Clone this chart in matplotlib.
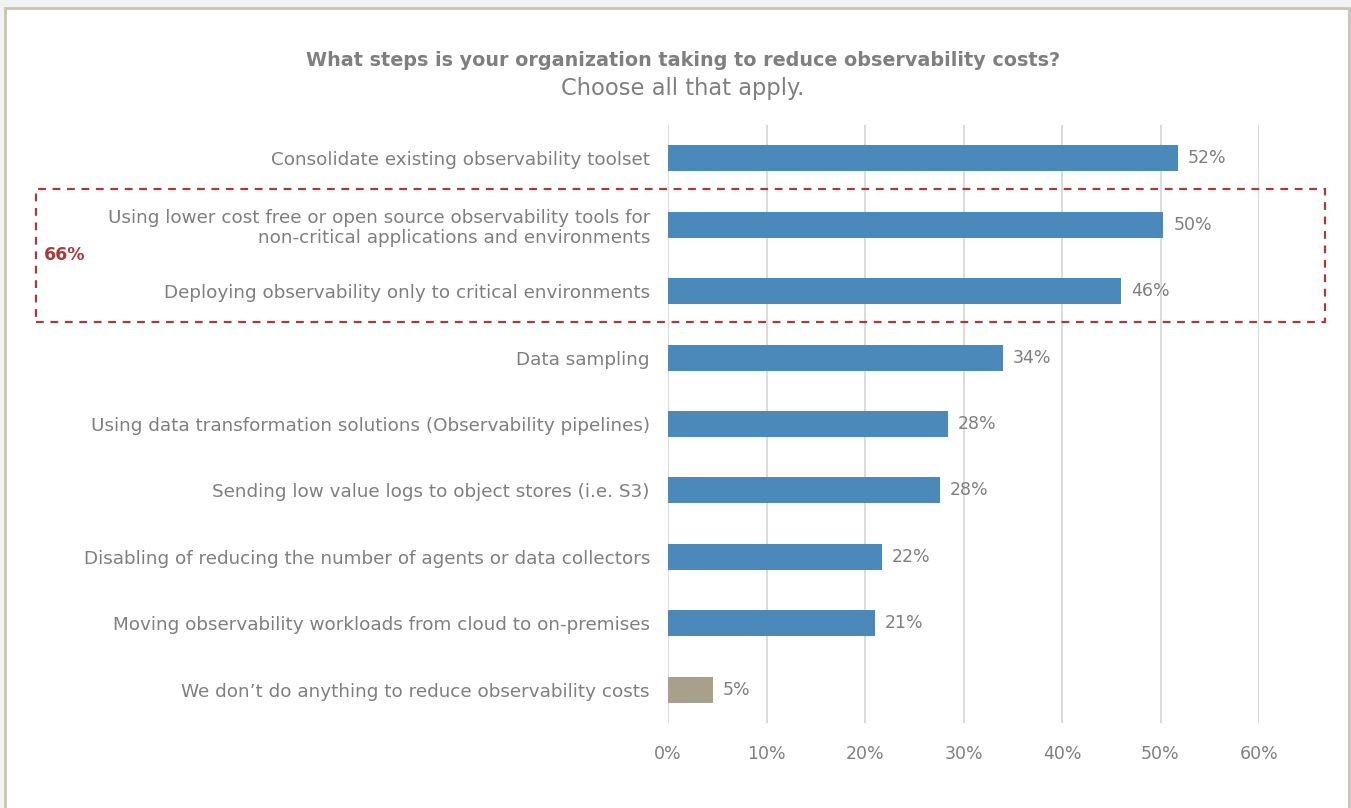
import matplotlib
matplotlib.use("Agg")
import matplotlib.pyplot as plt
from matplotlib.patches import Rectangle

plt.rcParams['font.family'] = ['DejaVu Sans']

# Survey responses (share of respondents)
categories = [
    "Consolidate existing observability toolset",
    "Using lower cost free or open source observability tools for\nnon-critical applications and environments",
    "Deploying observability only to critical environments",
    "Data sampling",
    "Using data transformation solutions (Observability pipelines)",
    "Sending low value logs to object stores (i.e. S3)",
    "Disabling of reducing the number of agents or data collectors",
    "Moving observability workloads from cloud to on-premises",
    "We don\u2019t do anything to reduce observability costs",
]
values = [0.518, 0.503, 0.46, 0.34, 0.284, 0.276, 0.217, 0.21, 0.046]
bar_colors = ["#4a89b9"] * 8 + ["#a9a08c"]
x_ticks = [0, 0.1, 0.2, 0.3, 0.4, 0.5, 0.6]
group_label = "66%"

TEXT = "#7f7f7f"
RED = "#a8393d"

W, H = 1351, 808
fig = plt.figure(figsize=(W / 100, H / 100), dpi=100)
fig.patch.set_facecolor("#f2f2f2")

# White chart area with thin frame
fig.add_artist(Rectangle((5 / W, -0.02), (1349 - 5) / W, (H - 8) / H + 0.02,
                         transform=fig.transFigure, facecolor="white",
                         edgecolor="#c9c3b5", linewidth=2, zorder=0))

ax = fig.add_axes([668 / W, 1 - 723 / H, (1259 - 668) / W, (723 - 125) / H])
ax.set_facecolor("none")
ypos = list(range(len(categories)))
ax.barh(ypos, values, height=0.39, color=bar_colors, zorder=3)
ax.set_xlim(0, 0.6)
ax.set_ylim(len(categories) - 0.5, -0.5)
ax.set_xticks(x_ticks)
ax.set_xticklabels([f"{int(round(t * 100))}%" for t in x_ticks])
ax.set_yticks(ypos)
ax.set_yticklabels(categories, ha="right", multialignment="right")
ax.tick_params(axis="both", length=0, colors=TEXT, labelsize=12.5)
ax.tick_params(axis="y", pad=13, labelsize=13.2)
ax.tick_params(axis="x", pad=16)
ax.xaxis.grid(True, color="#d9d9d9", linewidth=1.3, zorder=0)
ax.set_axisbelow(True)
for s in ax.spines.values():
    s.set_visible(False)

for y, v in zip(ypos, values):
    ax.text(v + 0.01, y, f"{round(v * 100):.0f}%", va="center", ha="left",
            color=TEXT, fontsize=12.5)

# Grouped highlight box
fig.add_artist(Rectangle((36 / W, 1 - 322 / H), (1325 - 36) / W, (322 - 189) / H,
                         transform=fig.transFigure, fill=False, edgecolor=RED,
                         linewidth=1.6, linestyle=(0, (3.5, 3)), zorder=5))
fig.text(44 / W, 1 - 255 / H, group_label, color=RED, fontsize=12.5,
         fontweight="bold", va="center", ha="left")

fig.text(683 / W, 1 - 61 / H, "What steps is your organization taking to reduce observability costs?",
         ha="center", va="center", color=TEXT, fontsize=13.8, fontweight="bold")
fig.text(683 / W, 1 - 89 / H, "Choose all that apply.",
         ha="center", va="center", color=TEXT, fontsize=16.3)

fig.savefig("out.png", dpi=100, facecolor=fig.get_facecolor())
